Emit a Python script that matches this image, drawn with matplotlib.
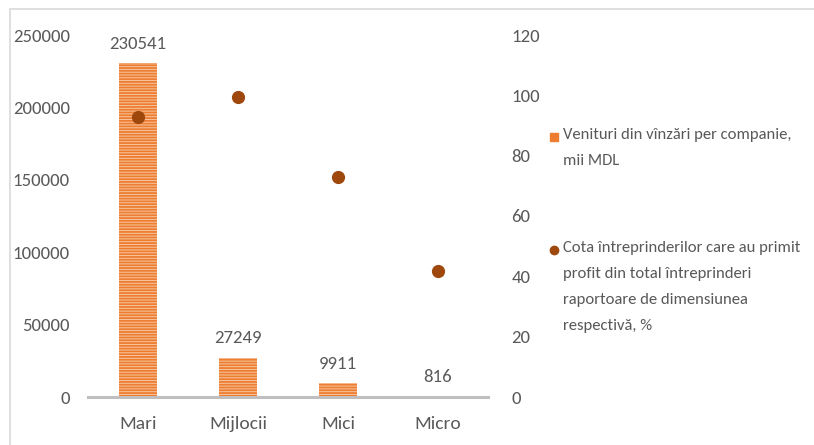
import matplotlib.pyplot as plt
from matplotlib.patches import Rectangle
from matplotlib.lines import Line2D

categories = ['Mari', 'Mijlocii', 'Mici', 'Micro']
venituri = [230541, 27249, 9911, 816]
cota_profit = [92.8, 99.4, 73.0, 41.9]
left_ticks = [0, 50000, 100000, 150000, 200000, 250000]
right_ticks = [0, 20, 40, 60, 80, 100, 120]
label_bar = 'Venituri din vînzări per companie,\nmii MDL'
label_dot = 'Cota întreprinderilor care au primit\nprofit din total întreprinderi\nraportoare de dimensiunea\nrespectivă, %'

txt = '#595959'
plt.rcParams['font.family'] = ['Carlito', 'DejaVu Sans']
plt.rcParams['hatch.linewidth'] = 1.3

fig = plt.figure(figsize=(8.14, 4.45), dpi=100)
ax = fig.add_axes([88 / 814, 1 - 397 / 445, 400 / 814, 362 / 445])

x = range(len(categories))
bars = ax.bar(x, venituri, width=0.38, color='#f7c6a0', edgecolor='#ed7d31',
              linewidth=0, hatch='------', zorder=2)
ax.bar_label(bars, labels=[str(v) for v in venituri], padding=8, fontsize=13.5, color=txt)

ax.set_xlim(-0.5, 3.5)
ax.set_ylim(0, 250000)
ax.set_yticks(left_ticks)
ax.set_xticks(list(x))
ax.set_xticklabels(categories)
ax.tick_params(axis='y', length=0, pad=13, labelsize=13.5, labelcolor=txt)
ax.tick_params(axis='x', length=0, pad=14, labelsize=14, labelcolor=txt)
for s in ['top', 'left', 'right']:
    ax.spines[s].set_visible(False)
ax.spines['bottom'].set_color('#bfbfbf')
ax.spines['bottom'].set_linewidth(2.2)

ax2 = ax.twinx()
ax2.plot(list(x), cota_profit, linestyle='none', marker='o', markersize=8.5,
         color='#9e480e', zorder=3)
ax2.set_ylim(0, 120)
ax2.set_yticks(right_ticks)
ax2.tick_params(axis='y', length=0, pad=17, labelsize=13.5, labelcolor=txt)
for s in ax2.spines.values():
    s.set_visible(False)

# legenda
fig.add_artist(Line2D([554 / 814], [1 - 137 / 445], marker='s', markersize=5.5,
                      color='#ed7d31', transform=fig.transFigure))
fig.text(563 / 814, 1 - 128 / 445, label_bar, fontsize=12, color=txt,
         va='top', ha='left', linespacing=2.1)
fig.add_artist(Line2D([554 / 814], [1 - 250 / 445], marker='o', markersize=6,
                      color='#9e480e', transform=fig.transFigure))
fig.text(563 / 814, 1 - 241 / 445, label_dot, fontsize=12, color=txt,
         va='top', ha='left', linespacing=2.1)

# chenar
fig.add_artist(Rectangle((10 / 814, -0.1), 1.2, 1 - 9 / 445 + 0.1, fill=False,
                         edgecolor='#d9d9d9', linewidth=1.2, transform=fig.transFigure))

fig.savefig('out.png', dpi=100, facecolor='white')
